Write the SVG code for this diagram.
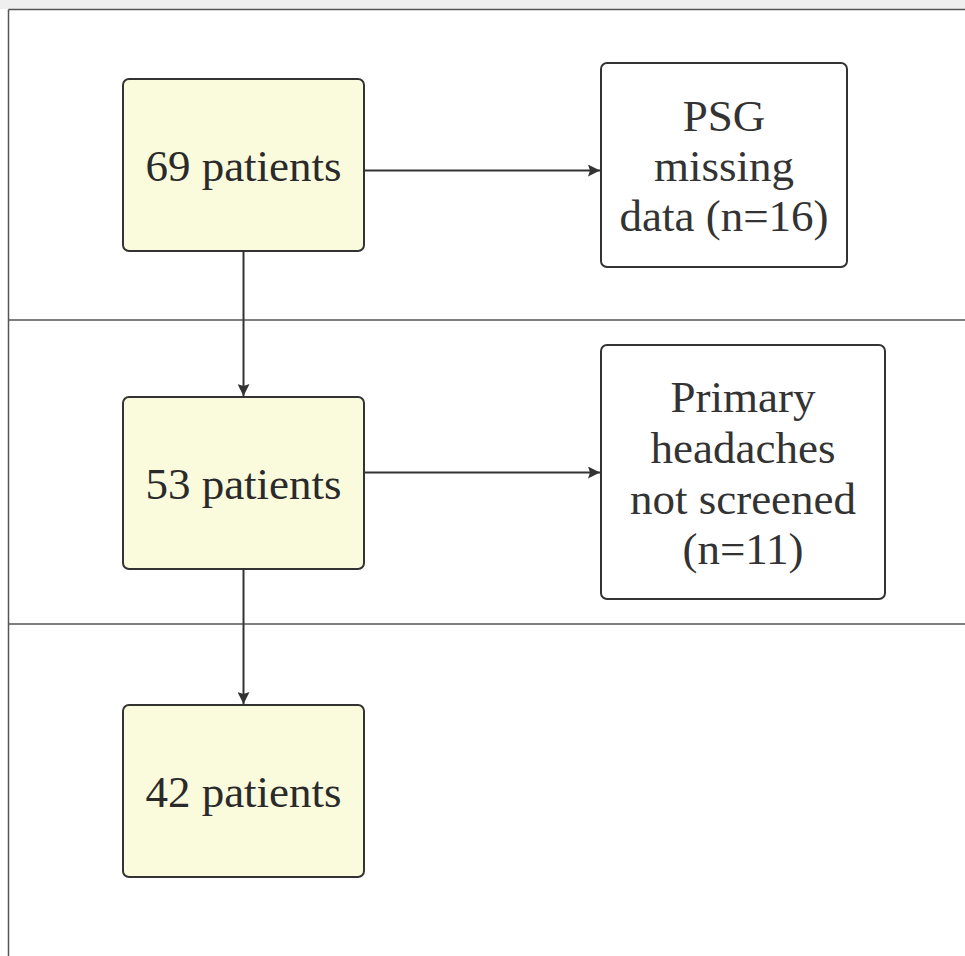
<svg xmlns="http://www.w3.org/2000/svg" width="965" height="956" viewBox="0 0 965 956">
<style>
.main{fill:#fafadc;stroke:#333;stroke-width:2}
.side{fill:#fff;stroke:#333;stroke-width:2}
.lbl{font-family:"Liberation Serif","Times New Roman",serif;font-size:45px;fill:#2a2a2a;text-anchor:middle}
.side-lbl{fill:#333}
.conn{stroke:#333;stroke-width:2;fill:none}
.lane{stroke:#555;stroke-width:1.5}
</style>
<defs>
<marker id="arr" viewBox="0 0 12 12" refX="12" refY="6" markerWidth="12" markerHeight="12" markerUnits="userSpaceOnUse" orient="auto">
<path d="M0,0 L12,6 L0,12 L2,6 Z" fill="#333"/>
</marker>
</defs>
<rect x="0" y="0" width="965" height="9" fill="#efefef"/>
<g id="lanes">
<line class="lane" x1="8.5" y1="9.5" x2="965" y2="9.5" stroke="#777"/>
<line class="lane" x1="8.5" y1="9.5" x2="8.5" y2="956" stroke="#777"/>
<line class="lane" x1="8.5" y1="320" x2="965" y2="320"/>
<line class="lane" x1="8.5" y1="624" x2="965" y2="624"/>
</g>
<g id="connectors">
<line class="conn" x1="364" y1="170.5" x2="600" y2="170.5" marker-end="url(#arr)"/>
<line class="conn" x1="364" y1="472.5" x2="600" y2="472.5" marker-end="url(#arr)"/>
<line class="conn" x1="243.5" y1="251" x2="243.5" y2="396" marker-end="url(#arr)"/>
<line class="conn" x1="243.5" y1="569" x2="243.5" y2="704" marker-end="url(#arr)"/>
</g>
<g id="n69">
<rect class="main" x="123" y="79" width="241" height="172" rx="6"/>
<text class="lbl" x="243.5" y="181">69 patients</text>
</g>
<g id="psg">
<rect class="side" x="601" y="63" width="246" height="204" rx="6"/>
<text class="lbl side-lbl" x="724" y="131">PSG</text>
<text class="lbl side-lbl" x="724" y="181">missing</text>
<text class="lbl side-lbl" x="724" y="231">data (n=16)</text>
</g>
<g id="n53">
<rect class="main" x="123" y="397" width="241" height="172" rx="6"/>
<text class="lbl" x="243.5" y="499">53 patients</text>
</g>
<g id="primary">
<rect class="side" x="601" y="345" width="284" height="254" rx="6"/>
<text class="lbl side-lbl" x="743" y="412">Primary</text>
<text class="lbl side-lbl" x="743" y="463">headaches</text>
<text class="lbl side-lbl" x="743" y="514">not screened</text>
<text class="lbl side-lbl" x="743" y="564">(n=11)</text>
</g>
<g id="n42">
<rect class="main" x="123" y="705" width="241" height="172" rx="6"/>
<text class="lbl" x="243.5" y="807">42 patients</text>
</g>
</svg>
